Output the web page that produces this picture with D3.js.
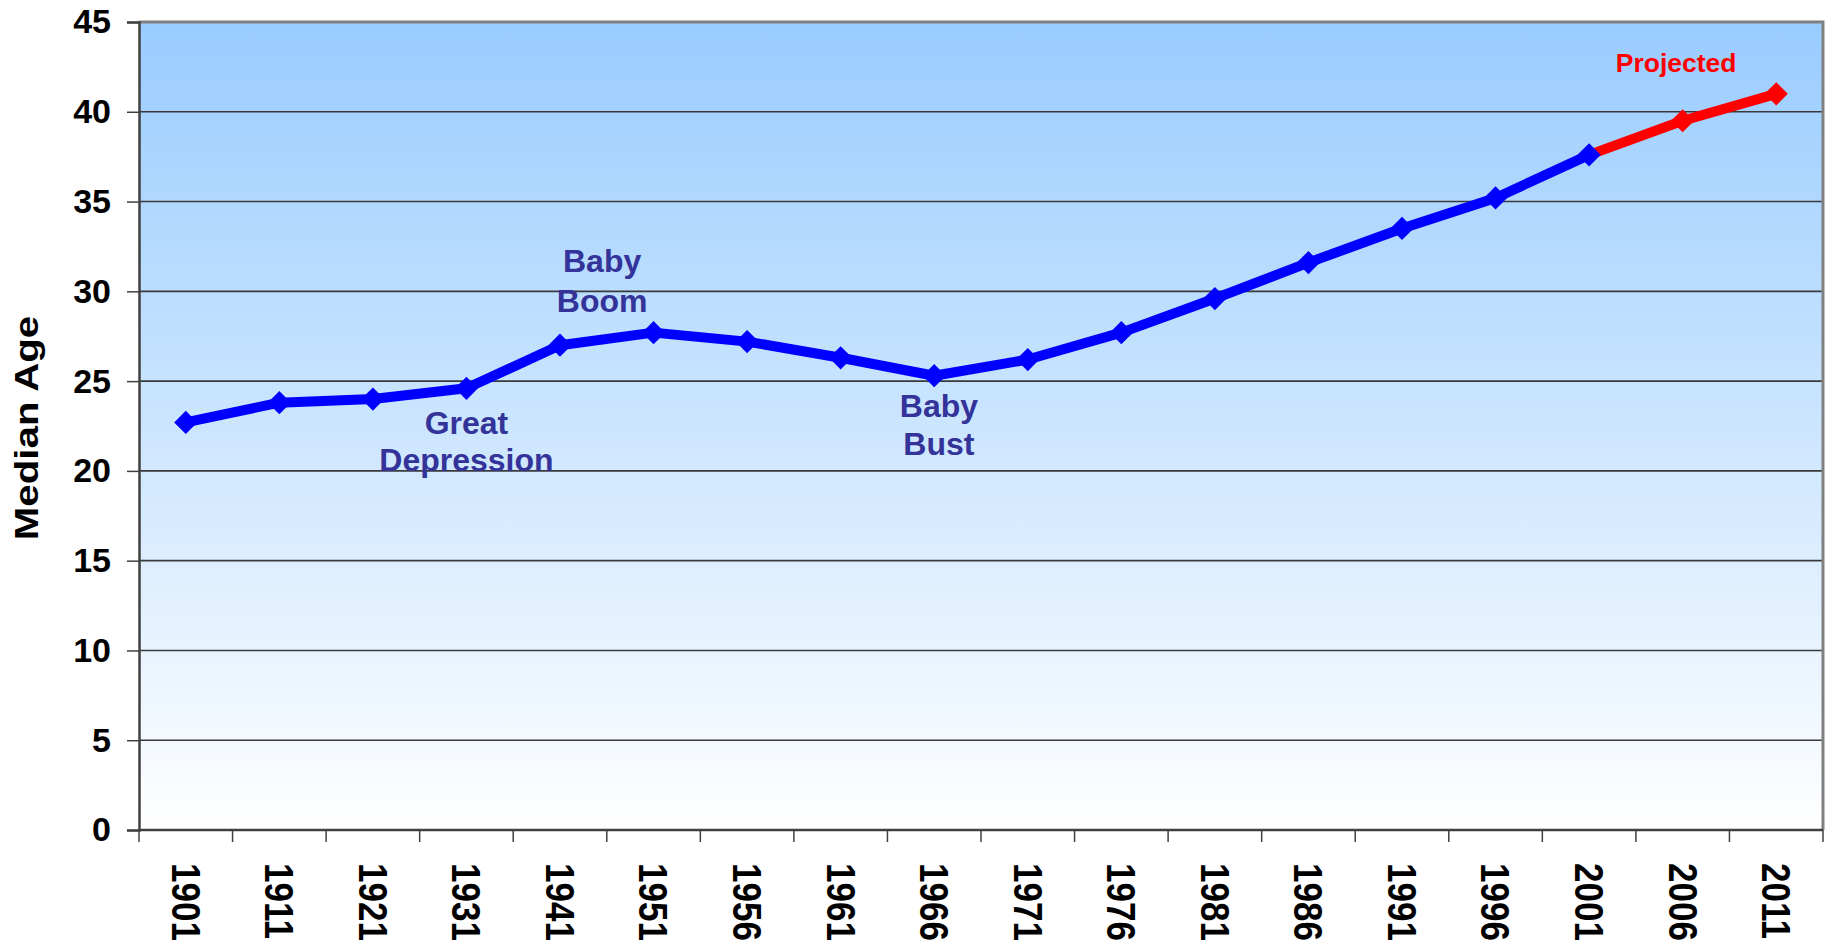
<html>

<head>
    <script src="https://d3js.org/d3.v7.min.js"></script>
    <title>Median Age</title>
    <style>
        body { margin: 0; background: #ffffff; }
        text { font-family: "Liberation Sans", Arial, sans-serif; font-weight: bold; }
    </style>
</head>

<body>
    <div id="vis"></div>
</body>

<script>

    // data
    var years = ["1901", "1911", "1921", "1931", "1941", "1951", "1956", "1961", "1966",
        "1971", "1976", "1981", "1986", "1991", "1996", "2001", "2006", "2011"];
    var medianAge = [22.7, 23.8, 24.0, 24.6, 27.0, 27.7, 27.2, 26.3, 25.3,
        26.2, 27.7, 29.6, 31.6, 33.5, 35.2, 37.6, 39.5, 41.0];
    var firstProjected = "2001"; // red segment starts here
    var yTicks = [0, 5, 10, 15, 20, 25, 30, 35, 40, 45];

    // annotations: [lines, category position (index), value of each line]
    var notes = [
        { lines: ["Great", "Depression"], at: 3.0, vals: [22.7, 20.6], color: "#333399", size: 32 },
        { lines: ["Baby", "Boom"], at: 4.45, vals: [31.7, 29.5], color: "#333399", size: 32 },
        { lines: ["Baby", "Bust"], at: 8.05, vals: [23.6, 21.5], color: "#333399", size: 32 },
        { lines: ["Projected"], at: 15.93, vals: [42.75], color: "#ff0000", size: 26.5 }
    ];

    var margin = { top: 22, right: 4, bottom: 115, left: 139 },
        width = 1827 - margin.left - margin.right,
        height = 945 - margin.top - margin.bottom;

    var root = d3.select("#vis")
        .append("svg")
        .attr("width", 1827)
        .attr("height", 945);

    var svg = root.append("g")
        .attr("transform", "translate(" + margin.left + "," + margin.top + ")");

    var x = d3.scaleBand()
        .domain(years)
        .range([0, width])
        .padding(0);

    var y = d3.scaleLinear()
        .domain([0, 45])
        .range([height, 0]);

    var cx = function (i) { return (i + 0.5) * x.bandwidth(); };

    // background gradient
    var grad = root.append("defs").append("linearGradient")
        .attr("id", "bg")
        .attr("x1", 0).attr("y1", 0).attr("x2", 0).attr("y2", 1);
    grad.append("stop").attr("offset", "0%").attr("stop-color", "#99ccff");
    grad.append("stop").attr("offset", "100%").attr("stop-color", "#ffffff");

    svg.append("rect")
        .attr("width", width)
        .attr("height", height)
        .attr("fill", "url(#bg)");

    // gridlines
    svg.append("g")
        .selectAll("line")
        .data(yTicks.filter(function (d) { return d > 0 && d < 45; }))
        .enter()
        .append("line")
        .attr("x1", 0)
        .attr("x2", width)
        .attr("y1", function (d) { return y(d); })
        .attr("y2", function (d) { return y(d); })
        .attr("stroke", "#3a3a3a")
        .attr("stroke-width", 1.6);

    // plot border (top and right)
    svg.append("path")
        .attr("d", "M0,0H" + width + "V" + height)
        .attr("fill", "none")
        .attr("stroke", "#808080")
        .attr("stroke-width", 3);

    // y axis
    var yAxis = svg.append("g")
        .call(d3.axisLeft(y).tickValues(yTicks).tickSize(12).tickPadding(16));
    yAxis.select(".domain").attr("stroke", "#404040").attr("stroke-width", 2.5);
    yAxis.selectAll(".tick line").attr("stroke", "#404040").attr("stroke-width", 1.5);
    yAxis.selectAll("text")
        .style("font-size", "34px")
        .style("font-family", "'Liberation Sans', Arial, sans-serif")
        .style("font-weight", "bold")
        .attr("fill", "#000");

    // x axis: ticks on band edges
    var xAxisG = svg.append("g")
        .attr("transform", "translate(0," + height + ")");
    xAxisG.append("line")
        .attr("x1", 0).attr("x2", width)
        .attr("stroke", "#404040").attr("stroke-width", 2.5);
    xAxisG.selectAll(".edge")
        .data(years.concat(["end"]))
        .enter()
        .append("line")
        .attr("class", "edge")
        .attr("x1", function (d, i) { return i * x.bandwidth(); })
        .attr("x2", function (d, i) { return i * x.bandwidth(); })
        .attr("y1", 0)
        .attr("y2", 12)
        .attr("stroke", "#404040")
        .attr("stroke-width", 1.5);
    xAxisG.selectAll(".lbl")
        .data(years)
        .enter()
        .append("text")
        .attr("class", "lbl")
        .attr("transform", function (d) {
            return "translate(" + (x(d) + x.bandwidth() / 2) + ",33)rotate(90)scale(1,1.15)";
        })
        .attr("dy", "0.35em")
        .style("font-size", "35px")
        .style("text-anchor", "start")
        .text(function (d) { return d; });

    // y axis title
    root.append("text")
        .attr("transform", "translate(38," + (margin.top + height / 2 + 2) + ")rotate(-90)scale(1.22,1)")
        .style("text-anchor", "middle")
        .style("font-size", "33px")
        .text("Median Age");

    // line
    var pts = years.map(function (d, i) { return { year: d, value: medianAge[i], i: i }; });
    var split = years.indexOf(firstProjected);

    var line = d3.line()
        .x(function (d) { return x(d.year) + x.bandwidth() / 2; })
        .y(function (d) { return y(d.value); });

    svg.append("path")
        .datum(pts.slice(split))
        .attr("d", line)
        .attr("fill", "none")
        .attr("stroke", "#ff0000")
        .attr("stroke-width", 10);

    svg.append("path")
        .datum(pts.slice(0, split + 1))
        .attr("d", line)
        .attr("fill", "none")
        .attr("stroke", "#0000ff")
        .attr("stroke-width", 10)
        .attr("stroke-linejoin", "round");

    svg.selectAll(".marker")
        .data(pts)
        .enter()
        .append("path")
        .attr("class", "marker")
        .attr("d", d3.symbol().type(d3.symbolSquare).size(270))
        .attr("transform", function (d) {
            return "translate(" + (x(d.year) + x.bandwidth() / 2) + "," + y(d.value) + ")rotate(45)";
        })
        .attr("fill", function (d) { return d.i > split ? "#ff0000" : "#0000ff"; });

    // annotations
    notes.forEach(function (n) {
        n.lines.forEach(function (t, k) {
            svg.append("text")
                .attr("x", cx(n.at))
                .attr("y", y(n.vals[k]))
                .attr("dy", "0.35em")
                .style("text-anchor", "middle")
                .style("font-size", n.size + "px")
                .attr("fill", n.color)
                .text(t);
        });
    });

</script>

</html>
